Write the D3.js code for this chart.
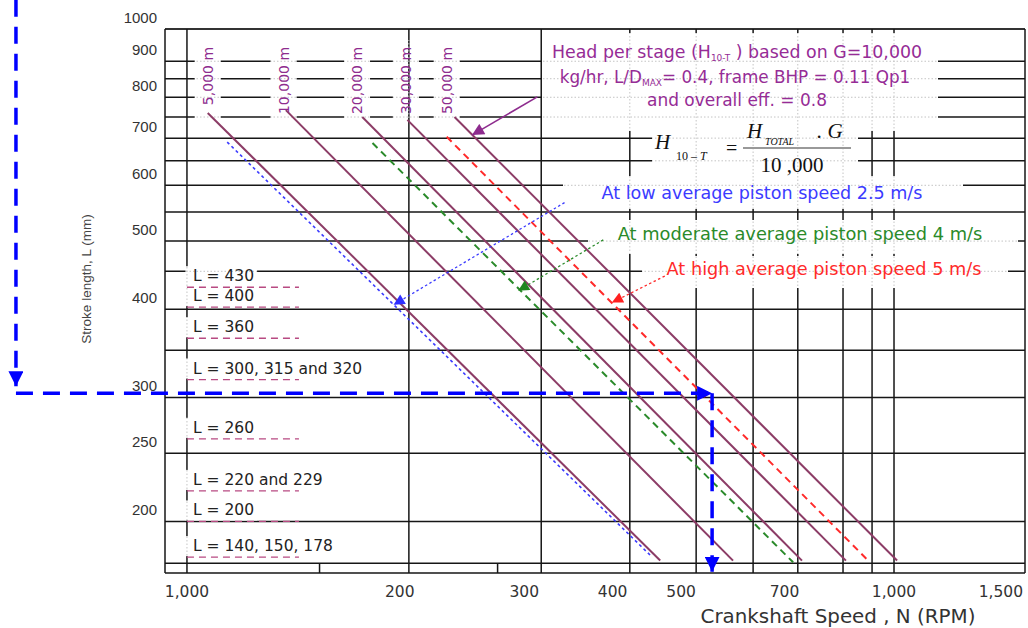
<!DOCTYPE html>
<html>
<head>
<meta charset="utf-8">
<title>Stroke length vs crankshaft speed</title>
<style>
  body { margin: 0; background: #fff; }
  text { font-family: "DejaVu Sans", sans-serif; }
</style>
</head>
<body>
<script src="https://cdnjs.cloudflare.com/ajax/libs/d3/7.8.5/d3.min.js"></script>
<script>
// grid lines (N in RPM, L in mm)
var xGrid = [100, 206, 317, 423, 525, 632, 731, 847, 931, 1000];
var xStripTicks = [154, 275];
var yGrid = [900, 850, 800, 750, 700, 650, 600, 550, 500, 453, 400, 350, 300, 250, 200, 174.5];
var xTicks = [100, 200, 300, 400, 500, 700, 1000, 1500];
var xTickLabels = ["1,000", "200", "300", "400", "500", "700", "1,000", "1,500"];
var yTicks = [1000, 900, 800, 700, 600, 500, 400, 300, 250, 200];

// head per stage lines, [N, L] at both ends
var headNames = ["5,000 m", "10,000 m", "20,000 m", "30,000 m", "50,000 m"];
var headLabelN = [107, 137, 174, 204, 233];
var headStart = [[107, 760], [138, 767], [177, 750], [205, 743], [239, 750]];
var headEnd = [[467, 176], [592, 176], [741, 176], [855, 176], [1010, 176]];
var headArrow = [[313, 801], [253, 707]];

// average piston speed lines
var speedNames = ["At low average piston speed 2.5 m/s",
                  "At moderate average piston speed 4 m/s",
                  "At high average piston speed 5 m/s"];
var speedStart = [[114, 691], [183, 689], [233, 703]];
var speedEnd = [[455, 178], [720, 175], [922, 175.5]];
var speedArrowFrom = [[342, 567], [388, 502], [474, 446]];
var speedArrowTo = [[196, 406], [294, 425], [399, 409]];

// stroke lengths marked on the left
var strokeLabels = ["L = 430", "L = 400", "L = 360", "L = 300, 315 and 320",
                    "L = 260", "L = 220 and 229", "L = 200", "L = 140, 150, 178"];
var strokeValues = [430, 403, 364, 318, 262, 221, 200, 178];

// worked example: L = 300 mm read across to N
var exampleL = 304, exampleN = 553, guideN = 57.3, guideTopL = 1100, guideBottomL = 169.7;

var width = 1028, height = 628;

var x = d3.scaleLog().domain([93.1, 1532]).range([165, 1025]);
var y = d3.scaleLog().domain([169, 1000]).range([573, 29]);

var svg = d3.select("body").append("svg")
    .attr("width", width)
    .attr("height", height);

var defs = svg.append("defs");
function marker(id, color, len, wid) {
  defs.append("marker")
      .attr("id", id)
      .attr("viewBox", "0 0 10 10")
      .attr("refX", 10).attr("refY", 5)
      .attr("markerUnits", "userSpaceOnUse")
      .attr("markerWidth", len).attr("markerHeight", wid)
      .attr("orient", "auto")
    .append("path")
      .attr("d", "M0,0L10,5L0,10Z")
      .attr("fill", color);
}
marker("arPurple", "#8e2c8e", 14, 12);
marker("arBlue", "#2f2fff", 13, 11);
marker("arGreen", "#1f871f", 13, 11);
marker("arRed", "#ff2020", 13, 11);
marker("arGuide", "#0000ff", 15, 15);

var hGridG = svg.append("g");
var labelBoxG = svg.append("g");
var vGridG = svg.append("g");
var noteBoxG = svg.append("g");
var dotG = svg.append("g").attr("clip-path", "url(#boxClip)");
var markG = svg.append("g");
var textG = svg.append("g");
var clip = defs.append("clipPath").attr("id", "boxClip");

var xLo = x.domain()[0], xHi = x.domain()[1], yLo = y.domain()[0], yHi = y.domain()[1];
var hLines = [yHi].concat(yGrid, [yLo]);
var vLines = [xLo].concat(xGrid, [xHi]);

function drawH(g, color, w, dash) {
  g.selectAll(null).data(hLines).enter().append("line")
      .attr("x1", x(xLo)).attr("x2", x(xHi))
      .attr("y1", function(d) { return y(d); })
      .attr("y2", function(d) { return y(d); })
      .style("stroke", color).style("stroke-width", w)
      .style("stroke-dasharray", dash);
}
function drawV(g, color, w, dash) {
  g.selectAll(null).data(vLines).enter().append("line")
      .attr("x1", function(d) { return x(d); })
      .attr("x2", function(d) { return x(d); })
      .attr("y1", y(yHi)).attr("y2", y(yLo))
      .style("stroke", color).style("stroke-width", w)
      .style("stroke-dasharray", dash);
  g.selectAll(null).data(xStripTicks).enter().append("line")
      .attr("x1", function(d) { return x(d); })
      .attr("x2", function(d) { return x(d); })
      .attr("y1", y(yGrid[yGrid.length - 1])).attr("y2", y(yLo))
      .style("stroke", color).style("stroke-width", w)
      .style("stroke-dasharray", dash);
}
drawH(hGridG, "#161616", 1.5, null);
drawV(vGridG, "#161616", 1.5, null);
// top border a little heavier
hGridG.append("line")
    .attr("x1", x(xLo)).attr("x2", x(xHi))
    .attr("y1", y(yHi)).attr("y2", y(yHi))
    .style("stroke", "#333").style("stroke-width", 2.2);

function addBox(g, x0, y0, x1, y1) {
  g.append("rect").attr("x", x0).attr("y", y0)
      .attr("width", x1 - x0).attr("height", y1 - y0)
      .style("fill", "#fff");
  clip.append("rect").attr("x", x0).attr("y", y0)
      .attr("width", x1 - x0).attr("height", y1 - y0);
}

// white text boxes of the annotations (pixels)
var noteBoxes = [
  [542, 33, 938, 131],
  [652, 121, 858, 176],
  [563, 176, 963, 209],
  [588, 220, 1018, 254],
  [642, 256, 1008, 288]
];
noteBoxes.forEach(function(b) { addBox(noteBoxG, b[0], b[1], b[2], b[3]); });

// rotated head labels
headNames.forEach(function(name, i) {
  var cx = x(headLabelN[i]);
  addBox(labelBoxG, cx - 13, 40, cx + 13, 119);
  textG.append("text")
      .attr("transform", "translate(" + cx + "," + (y(943)) + ") rotate(-90)")
      .attr("text-anchor", "end")
      .attr("dy", "0.35em")
      .attr("font-size", 14)
      .style("fill", "#8e2c8e")
      .text(name);
});

// stroke length labels with dashed underlines
strokeLabels.forEach(function(name, i) {
  var ly = y(strokeValues[i]);
  var t = textG.append("text")
      .attr("x", 193).attr("y", ly - 6)
      .attr("font-size", 15.5)
      .style("fill", "#222")
      .text(name);
  var len = t.node().getComputedTextLength();
  addBox(noteBoxG, 185.5, ly - 21, 193 + len + 3, ly - 1);
  markG.append("line")
      .attr("x1", x(100)).attr("x2", x(100) + 112)
      .attr("y1", ly).attr("y2", ly)
      .style("stroke", "#b84a82").style("stroke-width", 1.3)
      .style("stroke-dasharray", "7,5");
});

// faint dotted grid showing through the boxes
drawH(dotG, "#c4c4c4", 1, "1.5,2");
drawV(dotG, "#c4c4c4", 1, "1.5,2");

var lineGen = d3.line()
    .x(function(d) { return x(d[0]); })
    .y(function(d) { return y(d[1]); });

markG.selectAll(".head").data(headNames).enter().append("path")
    .attr("class", "head")
    .attr("d", function(d, i) { return lineGen([headStart[i], headEnd[i]]); })
    .style("stroke", "#8c3c66").style("stroke-width", 2).style("fill", "none");

var speedColors = ["#3b3bff", "#2a8a2a", "#ff2a2a"];
var speedDash = ["3,3", "7,5", "7,5"];
var speedMarker = ["arBlue", "arGreen", "arRed"];
markG.selectAll(".speed").data(speedNames).enter().append("path")
    .attr("class", "speed")
    .attr("d", function(d, i) { return lineGen([speedStart[i], speedEnd[i]]); })
    .style("stroke", function(d, i) { return speedColors[i]; })
    .style("stroke-width", function(d, i) { return i == 0 ? 1.6 : 2; })
    .style("stroke-dasharray", function(d, i) { return speedDash[i]; })
    .style("fill", "none");

markG.selectAll(".speedArrow").data(speedNames).enter().append("path")
    .attr("class", "speedArrow")
    .attr("d", function(d, i) { return lineGen([speedArrowFrom[i], speedArrowTo[i]]); })
    .attr("marker-end", function(d, i) { return "url(#" + speedMarker[i] + ")"; })
    .style("stroke", function(d, i) { return speedColors[i]; })
    .style("stroke-width", 1.3)
    .style("stroke-dasharray", "2.5,2.5")
    .style("fill", "none");

markG.append("path")
    .attr("d", lineGen(headArrow))
    .attr("marker-end", "url(#arPurple)")
    .style("stroke", "#8e2c8e").style("stroke-width", 1.6).style("fill", "none");

// worked example guide
var guideSegs = [
  [[guideN, guideTopL], [guideN, y.invert(y(exampleL) - 7)]],
  [[guideN, exampleL], [exampleN, exampleL]],
  [[exampleN, exampleL], [exampleN, guideBottomL]]
];
markG.selectAll(".guide").data(guideSegs).enter().append("path")
    .attr("class", "guide")
    .attr("d", lineGen)
    .attr("marker-end", "url(#arGuide)")
    .style("stroke", "#0000ff").style("stroke-width", 3.5)
    .style("stroke-dasharray", "17,10").style("fill", "none");

function fitWidth(t, w) {
  var len = t.node().getComputedTextLength();
  t.attr("font-size", parseFloat(t.attr("font-size")) * w / len);
}

// head note
var noteColor = "#962c96";
var n1 = textG.append("text").attr("x", 737).attr("y", 58).attr("text-anchor", "middle")
    .attr("font-size", 14).style("fill", noteColor);
n1.append("tspan").text("Head per stage (H");
n1.append("tspan").attr("font-size", 9).attr("dy", 3).text("10-T");
n1.append("tspan").attr("dy", -3).text(" ) based on G=10,000");
fitWidth(n1, 375);
var n2 = textG.append("text").attr("x", 735).attr("y", 83).attr("text-anchor", "middle")
    .attr("font-size", 14).style("fill", noteColor);
n2.append("tspan").text("kg/hr, L/D");
n2.append("tspan").attr("font-size", 9).attr("dy", 3).text("MAX");
n2.append("tspan").attr("dy", -3).text("= 0.4, frame BHP = 0.11 Qp1");
fitWidth(n2, 355);
var n3 = textG.append("text").attr("x", 737).attr("y", 106).attr("text-anchor", "middle")
    .attr("font-size", 14).style("fill", noteColor)
    .text("and overall eff. = 0.8");
fitWidth(n3, 180);

// formula
var serif = "'Liberation Serif', 'Times New Roman', serif";
var f = textG.append("g").style("font-family", serif).style("fill", "#111");
f.append("text").attr("x", 655).attr("y", 149).attr("font-size", 21)
    .style("font-style", "italic").style("font-family", serif).text("H");
f.append("text").attr("x", 676).attr("y", 160).attr("font-size", 12)
    .style("font-family", serif)
    .html("10 &#8211; <tspan font-style='italic'>T</tspan>");
f.append("text").attr("x", 726).attr("y", 155).attr("font-size", 20)
    .style("font-family", serif).text("=");
f.append("text").attr("x", 747).attr("y", 138).attr("font-size", 21)
    .style("font-style", "italic").style("font-family", serif).text("H");
f.append("text").attr("x", 765).attr("y", 145).attr("font-size", 10)
    .style("font-style", "italic").style("font-family", serif).text("TOTAL");
f.append("text").attr("x", 817).attr("y", 138).attr("font-size", 21)
    .style("font-style", "italic").style("font-family", serif).text(". G");
f.append("line").attr("x1", 743).attr("x2", 851).attr("y1", 148).attr("y2", 148)
    .style("stroke", "#999").style("stroke-width", 2);
f.append("text").attr("x", 792).attr("y", 172).attr("font-size", 21)
    .attr("text-anchor", "middle").style("font-family", serif).text("10 ,000");

// piston speed notes
var speedTextPos = [[762, 199, 321], [800, 240, 365], [824, 275, 315]];
speedNames.forEach(function(name, i) {
  var t = textG.append("text")
      .attr("x", speedTextPos[i][0]).attr("y", speedTextPos[i][1])
      .attr("text-anchor", "middle")
      .attr("font-size", 14)
      .style("fill", speedColors[i])
      .text(name);
  fitWidth(t, speedTextPos[i][2]);
});

// axis tick labels
textG.selectAll(".ylab").data(yTicks).enter().append("text")
    .attr("class", "ylab")
    .attr("x", 157)
    .attr("y", function(d) { return y(d) - 6; })
    .attr("text-anchor", "end")
    .attr("font-size", 15)
    .style("font-family", "'Liberation Sans', Arial, sans-serif")
    .style("fill", "#333")
    .text(function(d) { return d; });

textG.selectAll(".xlab").data(xTicks).enter().append("text")
    .attr("class", "xlab")
    .attr("x", function(d, i) { return i == xTicks.length - 1 ? x(xHi) - 2 : x(d); })
    .attr("y", 597)
    .attr("text-anchor", function(d, i) { return i == xTicks.length - 1 ? "end" : "middle"; })
    .attr("font-size", 15.5)
    .style("fill", "#333")
    .text(function(d, i) { return xTickLabels[i]; });

// axis titles
textG.append("text")
    .attr("transform", "translate(86,279) rotate(-90)")
    .attr("text-anchor", "middle")
    .attr("dy", "0.35em")
    .attr("font-size", 13.5)
    .style("font-family", "'Liberation Sans', Arial, sans-serif")
    .style("fill", "#444")
    .text("Stroke length, L (mm)");

var xt = textG.append("text")
    .attr("x", 838).attr("y", 623)
    .attr("text-anchor", "middle")
    .attr("font-size", 17)
    .style("fill", "#333")
    .text("Crankshaft Speed , N (RPM)");
fitWidth(xt, 275);
</script>
</body>
</html>
